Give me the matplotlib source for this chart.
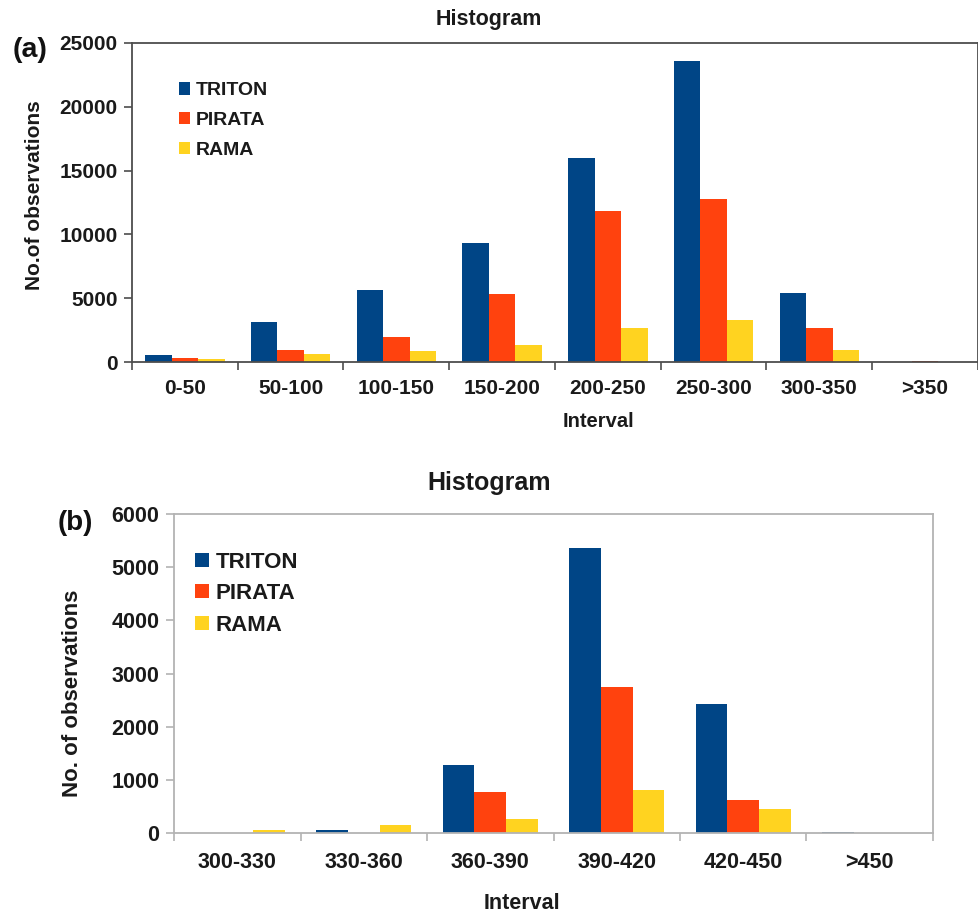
import matplotlib
matplotlib.use("Agg")
import matplotlib.pyplot as plt
import numpy as np

plt.rcParams['font.family'] = ['Liberation Sans', 'DejaVu Sans']
plt.rcParams['font.weight'] = 'bold'

series_names = ["TRITON", "PIRATA", "RAMA"]
colors = ["#004586", "#ff420e", "#ffd320"]

# Panel (a)
cats_a = ["0-50", "50-100", "100-150", "150-200", "200-250", "250-300", "300-350", ">350"]
triton_a = [520, 3100, 5610, 9300, 15990, 23590, 5430, 0]
pirata_a = [300, 960, 1960, 5330, 11830, 12740, 2660, 90]
rama_a = [230, 650, 860, 1330, 2660, 3320, 960, 0]
yticks_a = [0, 5000, 10000, 15000, 20000, 25000]

# Panel (b)
cats_b = ["300-330", "330-360", "360-390", "390-420", "420-450", ">450"]
triton_b = [0, 50, 1285, 5360, 2430, 20]
pirata_b = [0, 0, 780, 2750, 615, 0]
rama_b = [60, 155, 265, 810, 445, 0]
yticks_b = [0, 1000, 2000, 3000, 4000, 5000, 6000]

fig = plt.figure(figsize=(9.79, 9.13), dpi=100)
W, H = 979, 913

def px_axes(l, r, t, b):
    return fig.add_axes([l / W, (H - b) / H, (r - l) / W, (b - t) / H])

def draw(ax, cats, vals, yticks, ymax, frame_color, fs_tick, fs_leg, leg_anchor, xpad, spacing):
    n = len(cats)
    x = np.arange(n)
    w = 0.25
    for j, (name, v, c) in enumerate(zip(series_names, vals, colors)):
        ax.bar(x + (j - 1) * w, v, width=w, color=c, label=name, linewidth=0)
    ax.set_xlim(-0.5, n - 0.5)
    ax.set_ylim(0, ymax)
    ax.set_yticks(yticks)
    ax.set_yticklabels([str(t) for t in yticks], fontsize=fs_tick, fontweight='bold', color='#1a1a1a')
    ax.set_xticks(x)
    ax.set_xticklabels(cats, fontsize=fs_tick, fontweight='bold', color='#1a1a1a')
    ax.set_xticks(np.arange(n + 1) - 0.5, minor=True)
    ax.tick_params(axis='x', which='major', length=0, pad=xpad)
    ax.tick_params(axis='x', which='minor', length=5.5, width=1.2, color=frame_color, direction='out')
    ax.tick_params(axis='y', which='major', length=6, width=1.2, color=frame_color, direction='out', pad=4.5)
    for s in ax.spines.values():
        s.set_color(frame_color)
        s.set_linewidth(1.3)
    leg = ax.legend(loc='upper left', bbox_to_anchor=leg_anchor, frameon=False,
                    handlelength=0.6, handleheight=0.6, handletextpad=0.3,
                    borderpad=0, borderaxespad=0, labelspacing=spacing,
                    prop={'family': 'Liberation Sans', 'weight': 'bold', 'size': fs_leg})
    for t in leg.get_texts():
        t.set_color('#1a1a1a')

ax1 = px_axes(132, 978, 43, 362)
draw(ax1, cats_a, [triton_a, pirata_a, rama_a], yticks_a, 25000, '#4d4d4d', 15, 14,
     (0.055, 0.877), 12, 0.66)
ax2 = px_axes(174, 933, 514, 833)
draw(ax2, cats_b, [triton_b, pirata_b, rama_b], yticks_b, 6000, '#b3b3b3', 15.5, 16,
     (0.028, 0.882), 14, 0.47)

def ftext(x, y, s, size, rot=0, color='#1a1a1a'):
    fig.text(x / W, 1 - y / H, s, fontsize=size, fontweight='bold', ha='center', va='center',
             rotation=rot, color=color)

ftext(489, 20, "Histogram", 15.5)
ftext(489, 483, "Histogram", 18)
ftext(30, 50, "(a)", 20.5, color='#111111')
ftext(75, 523, "(b)", 20, color='#111111')
ftext(598, 421, "Interval", 14.5)
ftext(522, 903, "Interval", 15.5)
ftext(35, 195, "No.of observations", 15, rot=90)
ftext(73, 693, "No. of observations", 16, rot=90)

fig.savefig("out.png", dpi=100, facecolor='white')
